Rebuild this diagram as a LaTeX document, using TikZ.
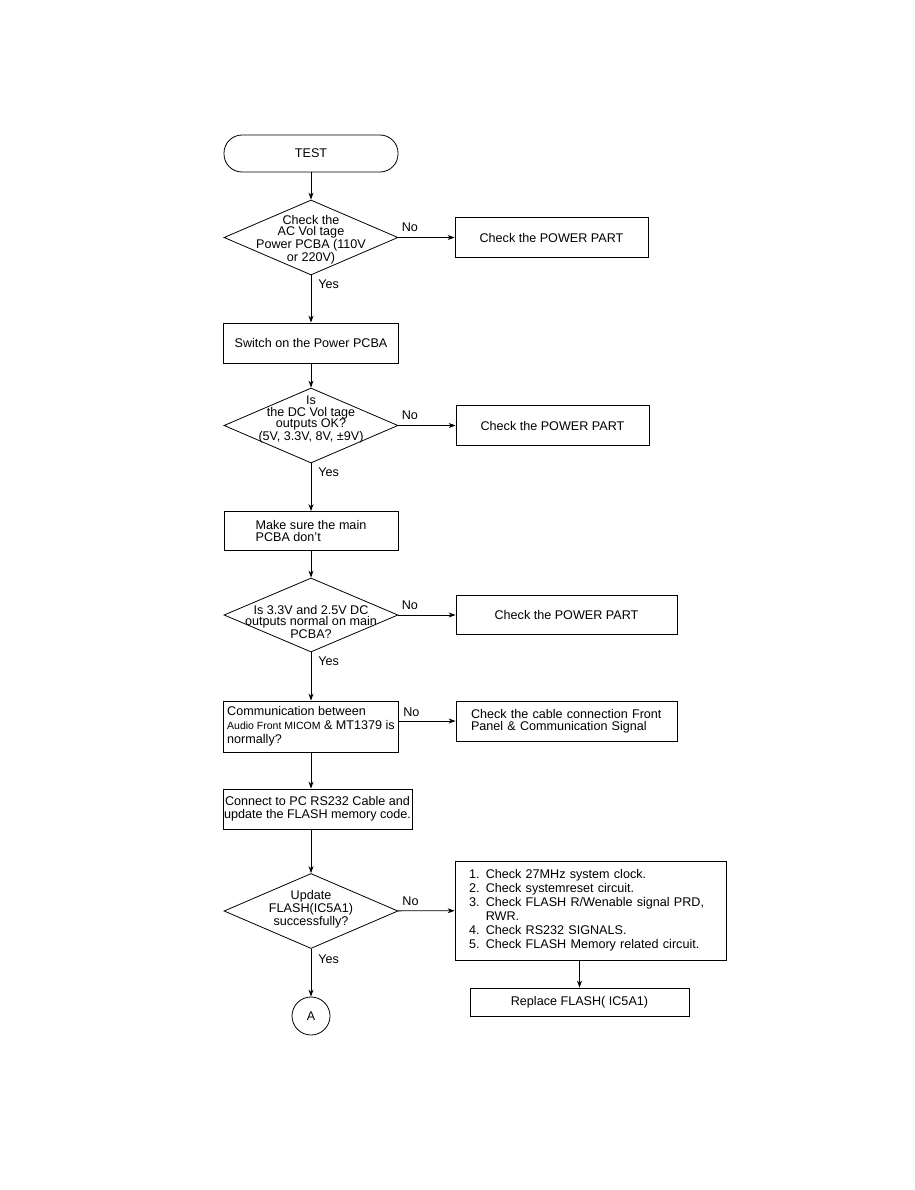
\documentclass[tikz,border=0pt]{standalone}
\usepackage{fontspec}
\setmainfont{Liberation Sans}
\usetikzlibrary{shapes.geometric,arrows.meta}

\begin{document}
\begin{tikzpicture}[x=1pt,y=-1pt,line width=0.8pt,
  font=\fontsize{12.6}{13}\selectfont,
  >={Stealth[length=7pt,width=5pt]},
  terminal/.style={draw,rectangle,rounded corners=18pt,minimum width=174pt,minimum height=37pt,inner sep=0pt},
  process/.style={draw,rectangle,inner sep=0pt,align=center},
  decision/.style={draw,diamond,minimum width=174pt,minimum height=75pt,inner sep=0pt},
  dtext/.style={inner sep=0pt,align=center,font=\fontsize{12.6}{11.5}\selectfont},
  reply/.style={inner sep=0pt}]
  \path[use as bounding box] (0,0) rectangle (914,1190);

  \node[terminal] (test) at (311,153.5) {TEST};
  \node[decision,label={[dtext,yshift=-2pt]center:{Check the\\AC Vol tage\\Power PCBA (110V\\or 220V)}}] (acv) at (311,237.5) {};
  \node[process,minimum width=193pt,minimum height=40pt] (pw1) at (551.5,237.5) {Check the POWER PART};
  \node[process,minimum width=175pt,minimum height=40pt] (swon) at (311,343) {Switch on the Power PCBA};
  \node[decision,label={[dtext,yshift=6pt]center:{Is\\the DC Vol tage\\outputs OK?\\(5V, 3.3V, 8V, ±9V)}}] (dcv) at (311,425.5) {};
  \node[process,minimum width=193pt,minimum height=40pt] (pw2) at (552.5,425.5) {Check the POWER PART};
  \node[process,minimum width=174pt,minimum height=39pt,align=left,font=\fontsize{12.6}{11.5}\selectfont] (mainpcb) at (311,531) {Make sure the main\\PCBA don't};
  \node[decision,minimum height=74pt,label={[dtext,yshift=-7pt,font=\fontsize{12.6}{11}\selectfont]center:{Is 3.3V and 2.5V DC\\outputs normal on main\\PCBA?}}] (dcm) at (311,615) {};
  \node[process,minimum width=221pt,minimum height=39pt] (pw3) at (566.5,615) {Check the POWER PART};
  \node[process,minimum width=175pt,minimum height=51pt,align=left,font=\fontsize{12.6}{14}\selectfont] (comm) at (311,726.5) {Communication between\\{\fontsize{10.5}{14}\selectfont Audio Front MICOM} \& MT1379 is\\normally?};
  \node[process,minimum width=221pt,minimum height=40pt,text width=191pt,inner xsep=15pt,align=left,font=\fontsize{12.6}{12.5}\selectfont] (cable) at (566.5,721) {Check the cable connection Front\\Panel \& Communication Signal};
  \node[process,minimum width=189pt,minimum height=40pt] (rs232) at (317.5,809) {Connect to PC RS232 Cable and\\update the FLASH memory code.};
  \node[decision,label={[dtext,yshift=2pt,font=\fontsize{12.6}{11}\selectfont]center:{Update\\FLASH(IC5A1)\\successfully?}}] (upd) at (311,911) {};
  \node[process,minimum width=271pt,minimum height=99pt,text width=243pt,inner xsep=14pt,align=left,font=\fontsize{12.6}{14}\selectfont] (checks) at (590.5,910.5) {1. Check 27MHz system clock.\\2. Check systemreset circuit.\\3. Check FLASH R/Wenable signal PRD,\\\phantom{3. }RWR.\\4. Check RS232 SIGNALS.\\5. Check FLASH Memory related circuit.};
  \node[draw,circle,minimum size=38pt,inner sep=0pt] (pA) at (311,1016) {A};
  \node[process,minimum width=219pt,minimum height=28pt] (repl) at (579.5,1002) {Replace FLASH( IC5A1)};

  \draw[->] (test) -- (acv);
  \draw[->] (acv) -- node[pos=0,anchor=south west,xshift=3pt,yshift=5pt,reply] {No} (pw1);
  \draw[->] (acv) -- node[pos=0,anchor=north west,xshift=7pt,yshift=-4pt,reply] {Yes} (swon);
  \draw[->] (swon) -- (dcv);
  \draw[->] (dcv) -- node[pos=0,anchor=south west,xshift=3pt,yshift=5pt,reply] {No} (pw2);
  \draw[->] (dcv) -- node[pos=0,anchor=north west,xshift=7pt,yshift=-4pt,reply] {Yes} (mainpcb);
  \draw[->] (mainpcb) -- (dcm);
  \draw[->] (dcm) -- node[pos=0,anchor=south west,xshift=3pt,yshift=5pt,reply] {No} (pw3);
  \draw[->] (dcm) -- node[pos=0,anchor=north west,xshift=7pt,yshift=-4pt,reply] {Yes} (comm);
  \draw[->] (comm.east |- cable) -- node[pos=0,anchor=south west,xshift=4pt,yshift=4pt,reply] {No} (cable);
  \draw[->] (comm) -- (comm |- rs232.north);
  \draw[->] (rs232.south -| upd) -- (upd);
  \draw[->] (upd) -- node[pos=0,anchor=south west,xshift=4pt,yshift=5pt,reply] {No} (checks);
  \draw[->] (upd) -- node[pos=0,anchor=north west,xshift=7pt,yshift=-6pt,reply] {Yes} (pA);
  \draw[->] (checks.south -| repl) -- (repl);
\end{tikzpicture}
\end{document}
